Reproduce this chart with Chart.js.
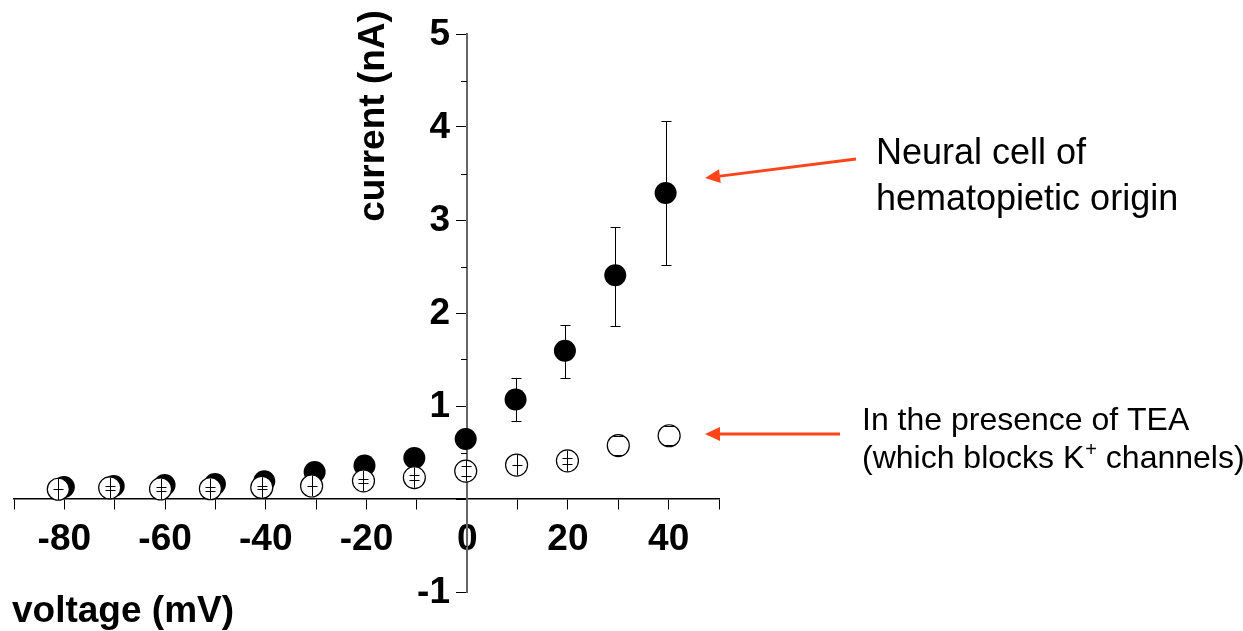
<!DOCTYPE html>
<html>
<head>
<meta charset="utf-8">
<script src="https://cdn.jsdelivr.net/npm/chart.js@4.4.1/dist/chart.umd.min.js"></script>
<style>
  html, body { margin: 0; padding: 0; background: #fff; }
  #wrap { width: 1243px; height: 631px; }
</style>
</head>
<body>
<div id="wrap"><canvas id="iv"></canvas></div>
<script>
// control cells (filled circles)
const controlV = [-80.1, -70.2, -60.1, -50.1, -40.3, -30.3, -20.4, -10.5, -0.3, 9.6, 19.4, 29.4, 39.4];
const controlI = [0.13, 0.14, 0.15, 0.16, 0.19, 0.29, 0.36, 0.44, 0.645, 1.07, 1.595, 2.405, 3.29];
const controlErrUp = [0, 0, 0, 0, 0, 0, 0, 0, 0, 0.23, 0.275, 0.525, 0.77];
const controlErrDown = [0, 0, 0, 0, 0, 0, 0, 0, 0, 0.235, 0.295, 0.54, 0.77];

// with TEA (open circles)
const teaV = [-81.2, -71.0, -60.9, -51.0, -40.8, -30.9, -20.6, -10.5, -0.3, 9.8, 19.9, 30.0, 40.1];
const teaI = [0.105, 0.12, 0.108, 0.11, 0.124, 0.14, 0.195, 0.23, 0.30, 0.365, 0.41, 0.575, 0.68];
const teaCap = [0, 0.02, 0.02, 0.02, 0.015, 0, 0.02, 0.025, 0.05, 0, 0.03, 0.1, 0.1];
const teaStem = [0.12, 0.11, 0.11, 0.11, 0.11, 0.11, 0.11, 0.11, 0.11, 0.11, 0.11, 0, 0];

const xTicks = [-80, -60, -40, -20, 0, 20, 40];
const yTicks = [-1, 1, 2, 3, 4, 5];
const yMinorTicks = [-0.5, 0.5, 1.5, 2.5, 3.5, 4.5];

const FONT = '"Liberation Sans", Arial, sans-serif';

const errorBars = {
  id: 'errorBars',
  afterDatasetsDraw(chart) {
    const c = chart.ctx, x = chart.scales.x, y = chart.scales.y;
    c.save();
    c.strokeStyle = '#000';
    c.lineWidth = 1;
    controlV.forEach((v, i) => {
      if (!controlErrUp[i] && !controlErrDown[i]) return;
      const px = Math.round(x.getPixelForValue(v)) + 0.5;
      const top = Math.round(y.getPixelForValue(controlI[i] + controlErrUp[i])) + 0.5;
      const bot = Math.round(y.getPixelForValue(controlI[i] - controlErrDown[i])) + 0.5;
      c.beginPath();
      c.moveTo(px, top); c.lineTo(px, bot);
      c.moveTo(px - 5, top); c.lineTo(px + 5, top);
      c.moveTo(px - 5, bot); c.lineTo(px + 5, bot);
      c.stroke();
    });
    teaV.forEach((v, i) => {
      const px = Math.round(x.getPixelForValue(v)) + 0.5;
      c.beginPath();
      if (teaStem[i]) {
        c.moveTo(px, y.getPixelForValue(teaI[i] + teaStem[i]));
        c.lineTo(px, y.getPixelForValue(teaI[i] - teaStem[i]));
      }
      const top = Math.round(y.getPixelForValue(teaI[i] + teaCap[i])) + 0.5;
      const bot = Math.round(y.getPixelForValue(teaI[i] - teaCap[i])) + 0.5;
      c.moveTo(px - 5, top); c.lineTo(px + 5, top);
      if (teaCap[i]) { c.moveTo(px - 5, bot); c.lineTo(px + 5, bot); }
      c.stroke();
    });
    c.restore();
  }
};

const decorations = {
  id: 'decorations',
  afterDraw(chart) {
    const c = chart.ctx, y = chart.scales.y, x = chart.scales.x;
    c.save();
    const ax = Math.round(x.getPixelForValue(0));
    // minor ticks on current axis
    c.strokeStyle = '#000';
    c.lineWidth = 1;
    yMinorTicks.forEach(t => {
      const py = Math.round(y.getPixelForValue(t)) + 0.5;
      c.beginPath(); c.moveTo(ax - 6, py); c.lineTo(ax, py); c.stroke();
    });

    // current axis tick labels, left of the axis
    c.fillStyle = '#000';
    c.font = 'bold 37px ' + FONT;
    c.textAlign = 'right';
    c.textBaseline = 'middle';
    yTicks.forEach(t => c.fillText(String(t), ax - 17, y.getPixelForValue(t) + 1));

    // axis titles
    c.textBaseline = 'alphabetic';
    c.textAlign = 'left';
    c.fillText('voltage (mV)', 12, 622);
    c.save();
    c.translate(384, 116);
    c.rotate(-Math.PI / 2);
    c.textAlign = 'center';
    c.fillText('current (nA)', 0, 0);
    c.restore();

    // annotations
    c.font = '36px ' + FONT;
    c.fillText('Neural cell of', 876, 164);
    c.fillText('hematopietic origin', 876, 210);
    c.font = '32px ' + FONT;
    c.fillText('In the presence of TEA', 862, 430);
    let tx = 862;
    c.fillText('(which blocks K', tx, 468);
    tx += c.measureText('(which blocks K').width;
    c.font = '20px ' + FONT;
    c.fillText('+', tx + 1, 456);
    tx += c.measureText('+').width + 1;
    c.font = '32px ' + FONT;
    c.fillText(' channels)', tx, 468);

    // arrows
    const arrow = (x1, y1, x2, y2) => {
      const ang = Math.atan2(y2 - y1, x2 - x1);
      const hl = 15, hw = 7;
      const bx = x2 - hl * Math.cos(ang), by = y2 - hl * Math.sin(ang);
      c.strokeStyle = '#ff4419';
      c.fillStyle = '#ff4419';
      c.lineWidth = 3;
      c.beginPath(); c.moveTo(x1, y1); c.lineTo(bx, by); c.stroke();
      c.beginPath();
      c.moveTo(x2, y2);
      c.lineTo(bx + hw * Math.sin(ang), by - hw * Math.cos(ang));
      c.lineTo(bx - hw * Math.sin(ang), by + hw * Math.cos(ang));
      c.closePath(); c.fill();
    };
    arrow(856, 159, 705, 178);
    arrow(840, 434, 705, 434);
    c.restore();
  }
};

new Chart(document.getElementById('iv'), {
  type: 'scatter',
  data: {
    datasets: [{
      label: 'TEA',
      data: teaV.map((v, i) => ({x: v, y: teaI[i]})),
      pointRadius: 11,
      pointBackgroundColor: '#fff',
      pointBorderColor: '#000',
      pointBorderWidth: 1.2,
      order: 1
    }, {
      label: 'control',
      data: controlV.map((v, i) => ({x: v, y: controlI[i]})),
      pointRadius: 11,
      pointBackgroundColor: '#000',
      pointBorderColor: '#000',
      pointBorderWidth: 0,
      order: 2
    }]
  },
  options: {
    responsive: true,
    maintainAspectRatio: false,
    animation: false,
    events: [],
    layout: { padding: { left: 14, right: 524, top: 34, bottom: 39 } },
    plugins: { legend: { display: false }, tooltip: { enabled: false } },
    scales: {
      x: {
        type: 'linear',
        min: -90, max: 50,
        position: { y: 0 },
        border: { display: true, color: '#000', width: 1.5 },
        grid: { drawOnChartArea: false, drawTicks: true, tickLength: 10, color: '#000' },
        ticks: {
          stepSize: 10,
          padding: 9,
          color: '#000',
          maxRotation: 0,
          autoSkip: false,
          font: { family: FONT, size: 37, weight: 'bold' },
          callback: v => xTicks.includes(v) ? String(v) : ''
        }
      },
      y: {
        type: 'linear',
        min: -1, max: 5,
        position: { x: 0 },
        border: { display: true, color: '#666', width: 2 },
        grid: { drawOnChartArea: false, drawTicks: true, tickLength: 10, color: '#000' },
        ticks: {
          stepSize: 1,
          color: '#000',
          autoSkip: false,
          callback: () => ''
        }
      }
    }
  },
  plugins: [errorBars, decorations]
});
</script>
</body>
</html>
